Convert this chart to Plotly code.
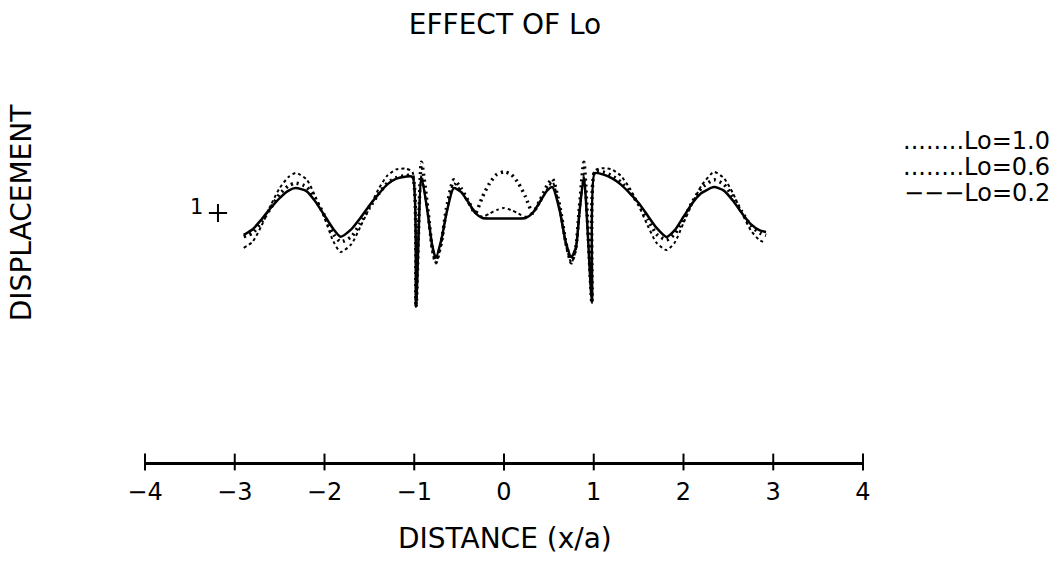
import plotly.graph_objects as go

# Distance along the surface, x/a
x_vals = [-2.90, -2.80, -2.70, -2.60, -2.50, -2.40, -2.32, -2.20, -2.10, -2.00,
          -1.90, -1.82, -1.70, -1.60, -1.50, -1.40, -1.30, -1.20, -1.10, -1.02,
          -0.98, -0.92, -0.85, -0.80, -0.76, -0.70, -0.64, -0.56, -0.48, -0.40,
          -0.32, -0.24, -0.16, -0.08,
          0.00,
          0.08, 0.16, 0.24, 0.32, 0.40, 0.48, 0.54, 0.62, 0.69, 0.75,
          0.80, 0.84, 0.89, 0.98, 1.01, 1.10, 1.20, 1.30, 1.40, 1.50,
          1.60, 1.70, 1.81, 1.90, 2.00, 2.10, 2.20, 2.34, 2.45, 2.55,
          2.65, 2.75, 2.85, 2.92]

# Displacement for Lo = 1.0
disp_lo10 = [0.860, 0.885, 0.950, 1.030, 1.100, 1.145, 1.161, 1.135, 1.065, 0.980,
             0.885, 0.843, 0.875, 0.945, 1.020, 1.095, 1.150, 1.175, 1.178, 1.165,
             0.622, 1.150, 1.000, 0.850, 0.800, 0.870, 1.000, 1.120, 1.090, 1.040,
             1.000, 0.985, 0.998, 1.012,
             1.020,
             1.012, 0.998, 0.985, 1.000, 1.040, 1.095, 1.125, 1.020, 0.870, 0.800,
             0.850, 1.000, 1.150, 0.639, 1.170, 1.180, 1.175, 1.150, 1.100, 1.030,
             0.950, 0.880, 0.851, 0.880, 0.960, 1.040, 1.110, 1.165, 1.140, 1.080,
             1.000, 0.930, 0.890, 0.880]

# Displacement for Lo = 0.6
disp_lo06 = [0.905, 0.920, 0.965, 1.020, 1.075, 1.110, 1.120, 1.105, 1.055, 0.990,
             0.915, 0.884, 0.905, 0.960, 1.020, 1.075, 1.120, 1.142, 1.150, 1.150,
             0.622, 1.204, 1.020, 0.860, 0.800, 0.880, 1.020, 1.133, 1.100, 1.050,
             1.000, 1.065, 1.120, 1.155,
             1.165,
             1.155, 1.120, 1.065, 1.000, 1.050, 1.110, 1.137, 1.030, 0.880, 0.800,
             0.860, 1.020, 1.204, 0.639, 1.165, 1.165, 1.150, 1.125, 1.085, 1.035,
             0.975, 0.915, 0.892, 0.915, 0.975, 1.045, 1.100, 1.133, 1.115, 1.065,
             1.005, 0.950, 0.920, 0.910]

# Displacement for Lo = 0.2
disp_lo02 = [0.912, 0.935, 0.975, 1.020, 1.060, 1.090, 1.100, 1.088, 1.045, 0.990,
             0.935, 0.905, 0.935, 0.980, 1.030, 1.075, 1.115, 1.138, 1.146, 1.145,
             0.622, 1.145, 1.000, 0.870, 0.820, 0.890, 1.000, 1.100, 1.085, 1.045,
             1.000, 0.980, 0.978, 0.978,
             0.978,
             0.978, 0.978, 0.980, 1.000, 1.045, 1.090, 1.104, 1.010, 0.880, 0.823,
             0.860, 1.000, 1.145, 0.639, 1.160, 1.155, 1.140, 1.115, 1.080, 1.040,
             0.990, 0.940, 0.904, 0.930, 0.985, 1.040, 1.080, 1.104, 1.090, 1.050,
             1.000, 0.955, 0.930, 0.924]

x_ticks = [-4, -3, -2, -1, 0, 1, 2, 3, 4]
y_ticks = [1]
y_tick_x = -3.187          # where the lone vertical-scale tick sits
legend_labels = ["........Lo=1.0", "........Lo=0.6", "\u2212\u2212\u2212Lo=0.2"]

FONT = "DejaVu Sans"
INK = "black"

fig = go.Figure()

fig.add_trace(go.Scatter(
    x=x_vals, y=disp_lo10, mode="lines", name=legend_labels[0],
    line=dict(color=INK, width=2, dash="dot", shape="spline", smoothing=0.6),
    hoverinfo="skip"))
fig.add_trace(go.Scatter(
    x=x_vals, y=disp_lo06, mode="lines", name=legend_labels[1],
    line=dict(color=INK, width=3.5, dash="2px,4px", shape="spline", smoothing=0.6),
    hoverinfo="skip"))
fig.add_trace(go.Scatter(
    x=x_vals, y=disp_lo02, mode="lines", name=legend_labels[2],
    line=dict(color=INK, width=2.5, shape="spline", smoothing=0.6),
    hoverinfo="skip"))

# crossing tick marks on the distance axis
fig.add_trace(go.Scatter(
    x=x_ticks, y=[0] * len(x_ticks), mode="markers", cliponaxis=False,
    marker=dict(symbol="line-ns-open", size=12, color=INK, line=dict(color=INK, width=2)),
    hoverinfo="skip"))

# "+" tick on the displacement scale
fig.add_trace(go.Scatter(
    x=[y_tick_x] * len(y_ticks), y=y_ticks, mode="markers", cliponaxis=False,
    marker=dict(symbol="cross-thin-open", size=13, color=INK, line=dict(color=INK, width=2)),
    hoverinfo="skip"))

annotations = [
    dict(text=str(v), x=y_tick_x - 0.24, y=v, xref="x", yref="y", yshift=6,
         xanchor="center", yanchor="middle",
         showarrow=False, font=dict(family=FONT, size=21, color=INK))
    for v in y_ticks
]
annotations.append(dict(text="DISPLACEMENT", x=-0.171, y=0.7135, xref="paper", yref="paper",
                        xanchor="center", yanchor="middle",
                        textangle=-90, showarrow=False, font=dict(family=FONT, size=28, color=INK)))
annotations.append(dict(text="DISTANCE (x/a)", x=0.5014, y=-0.2206, xref="paper", yref="paper",
                        xanchor="center", yanchor="middle",
                        showarrow=False, font=dict(family=FONT, size=28, color=INK)))
for i, lab in enumerate(legend_labels):
    annotations.append(dict(text=lab, x=1.2632, y=0.9198 - i * 0.0745, xref="paper", yref="paper",
                            xanchor="right", yanchor="middle", showarrow=False,
                            font=dict(family=FONT, size=24, color=INK)))

fig.update_layout(
    width=1062, height=567, autosize=False,
    margin=dict(l=145, r=199, t=113, b=105, pad=0),
    paper_bgcolor="white", plot_bgcolor="white",
    showlegend=False,
    title=dict(text="EFFECT OF Lo", x=0.4755, xanchor="center", y=0.9577, yanchor="middle",
               font=dict(family=FONT, size=28, color=INK)),
    xaxis=dict(range=[-4, 4], tickvals=x_ticks, ticks="", showline=True, linecolor=INK,
               linewidth=2.5, showgrid=False, zeroline=False, ticklabelstandoff=6,
               tickfont=dict(family=FONT, size=24, color=INK)),
    yaxis=dict(range=[0, 1.4016], visible=False, showgrid=False, zeroline=False),
    annotations=annotations,
)

fig.write_html("out.html")
